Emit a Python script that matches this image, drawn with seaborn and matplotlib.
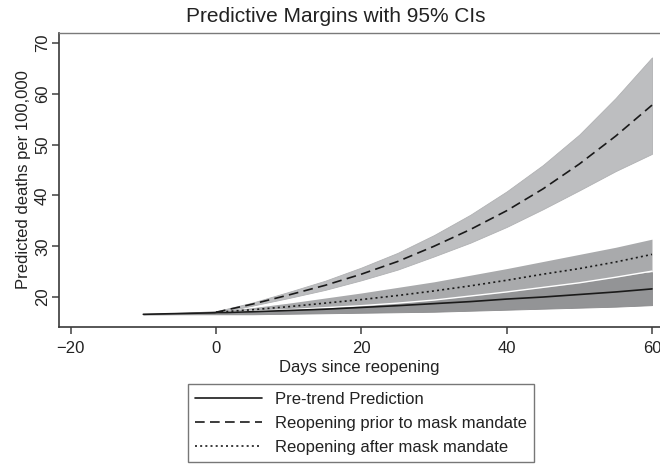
import numpy as np
import pandas as pd
import matplotlib
matplotlib.use("Agg")
import matplotlib.pyplot as plt
import seaborn as sns

# ---- data ----
x_pre = [-10, -5, 0, 5, 10, 15, 20, 25, 30, 35, 40, 45, 50, 55, 60]
y_pre = [16.6, 16.75, 16.9, 17.1, 17.35, 17.6, 17.95, 18.3, 18.7, 19.1, 19.6, 20.0, 20.5, 21.0, 21.6]
lo_pre = [16.55, 16.6, 16.6, 16.6, 16.7, 16.8, 16.9, 17.0, 17.1, 17.3, 17.5, 17.7, 17.9, 18.1, 18.4]
hi_pre = [16.65, 16.9, 17.2, 17.6, 18.0, 18.5, 19.0, 19.6, 20.3, 21.0, 21.8, 22.6, 23.3, 24.1, 24.9]

x_post = [0, 5, 10, 15, 20, 25, 30, 35, 40, 45, 50, 55, 60]
y_prior = [17.0, 18.6, 20.4, 22.3, 24.5, 27.0, 30.0, 33.3, 37.0, 41.3, 46.2, 51.7, 57.8]
lo_prior = [16.8, 18.3, 19.8, 21.4, 23.3, 25.4, 28.0, 30.7, 33.8, 37.3, 41.0, 44.8, 48.2]
hi_prior = [17.2, 18.9, 21.0, 23.2, 25.8, 28.7, 32.2, 36.2, 40.8, 46.0, 52.0, 59.2, 67.2]

y_after = [17.0, 17.5, 18.1, 18.8, 19.5, 20.3, 21.2, 22.2, 23.3, 24.5, 25.6, 26.9, 28.4]
lo_after = [16.9, 17.2, 17.5, 17.9, 18.3, 18.8, 19.4, 20.2, 21.0, 21.9, 22.8, 23.9, 25.1]
hi_after = [17.1, 17.9, 18.8, 19.8, 20.8, 21.9, 23.0, 24.3, 25.6, 27.0, 28.4, 29.8, 31.4]

series_names = ["Pre-trend Prediction",
                "Reopening prior to mask mandate",
                "Reopening after mask mandate"]
x_ticks = [-20, 0, 20, 40, 60]
y_ticks = [20, 30, 40, 50, 60, 70]

df = pd.concat([
    pd.DataFrame({"x": x_pre, "y": y_pre, "series": series_names[0]}),
    pd.DataFrame({"x": x_post, "y": y_prior, "series": series_names[1]}),
    pd.DataFrame({"x": x_post, "y": y_after, "series": series_names[2]}),
], ignore_index=True)

sns.set_theme(style="ticks")
plt.rcParams["font.family"] = ["Liberation Sans", "DejaVu Sans"]
plt.rcParams["text.color"] = "#222222"
plt.rcParams["axes.labelcolor"] = "#222222"
plt.rcParams["xtick.color"] = "#404040"
plt.rcParams["ytick.color"] = "#404040"
plt.rcParams["xtick.labelcolor"] = "#222222"
plt.rcParams["ytick.labelcolor"] = "#222222"

fig = plt.figure(figsize=(6.6, 4.65), dpi=100)
ax = fig.add_axes([0.0894, 0.2968, 0.9106, 0.6322])

# confidence bands
ax.fill_between(x_pre, lo_pre, hi_pre, color="#939496", lw=0.6, edgecolor="#8a8a8c", zorder=1)
ax.fill_between(x_post, lo_after, hi_after, color="#a9aaac", lw=0, zorder=2)
ax.plot(x_post, lo_after, color="white", lw=1.0, zorder=2.5)
ax.fill_between(x_post, lo_prior, hi_prior, color="#bdbec0", lw=0.6, edgecolor="#b0b1b3", zorder=2.2)

dashes = {series_names[0]: "", series_names[1]: (5.8, 3.2), series_names[2]: (1.2, 1.9)}
sns.lineplot(data=df, x="x", y="y", style="series", dashes=dashes,
             style_order=series_names, color="#1a1a1a", lw=1.2,
             legend=False, ax=ax, zorder=3, sort=True, estimator=None)

ax.set_xlim(-21.6, 61.1)
ax.set_ylim(14.1, 72.0)
ax.set_xticks(x_ticks)
ax.set_yticks(y_ticks)
ax.tick_params(axis="both", labelsize=12, length=5, width=1.1, direction="out")
ax.tick_params(axis="x", pad=5)
ax.tick_params(axis="y", pad=1.5)
for lab in ax.get_yticklabels():
    lab.set_rotation(90)
    lab.set_va("center")

ax.set_xlabel("Days since reopening", fontsize=12, labelpad=3)
ax.set_ylabel("Predicted deaths per 100,000", fontsize=12, labelpad=3)

for s in ["left", "bottom"]:
    ax.spines[s].set_color("#3a3a3a")
    ax.spines[s].set_linewidth(1.2)
ax.spines["top"].set_visible(True)
ax.spines["top"].set_color("#7a7a7a")
ax.spines["top"].set_linewidth(1.0)
ax.spines["right"].set_visible(False)

fig.text(0.508, 0.965, "Predictive Margins with 95% CIs", ha="center", va="center", fontsize=15)

lines = ax.get_lines()
handles = [l for l in lines if l.get_color() != "white"][:3]
leg = fig.legend(handles, series_names, loc="upper center",
                 bbox_to_anchor=(0.547, 0.174), bbox_transform=fig.transFigure,
                 fontsize=12, frameon=True, fancybox=False, handlelength=4.0,
                 handletextpad=0.75, labelspacing=0.55, borderpad=0.45,
                 borderaxespad=0)
leg.get_frame().set_edgecolor("#555555")
leg.get_frame().set_linewidth(1.0)

fig.savefig("out.png", dpi=100)
